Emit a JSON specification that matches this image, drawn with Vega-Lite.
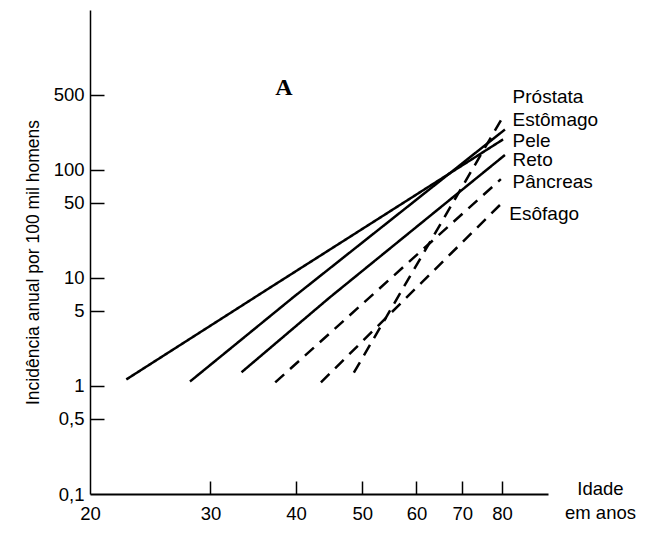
{
  "$schema": "https://vega.github.io/schema/vega-lite/v6.json",
  "width": 458,
  "height": 484,
  "autosize": {"type": "none"},
  "padding": {"left": 90, "top": 10, "right": 101, "bottom": 48},
  "background": "white",
  "config": {"view": {"stroke": null}, "font": "Liberation Sans"},
  "datasets": {
    "linhas": [
      {"cancer": "Estômago", "tipo": "solid", "idade": 22.6, "incidencia": 1.15},
      {"cancer": "Estômago", "tipo": "solid", "idade": 36.3, "incidencia": 7.83},
      {"cancer": "Estômago", "tipo": "solid", "idade": 80.3, "incidencia": 192},
      {"cancer": "Pele", "tipo": "solid", "idade": 28.0, "incidencia": 1.10},
      {"cancer": "Pele", "tipo": "solid", "idade": 39.6, "incidencia": 6.6},
      {"cancer": "Pele", "tipo": "solid", "idade": 80.8, "incidencia": 237},
      {"cancer": "Reto", "tipo": "solid", "idade": 33.3, "incidencia": 1.34},
      {"cancer": "Reto", "tipo": "solid", "idade": 44.8, "incidencia": 6.6},
      {"cancer": "Reto", "tipo": "solid", "idade": 80.8, "incidencia": 137.7},
      {"cancer": "Pâncreas", "tipo": "dashed", "idade": 37.3, "incidencia": 1.08},
      {"cancer": "Pâncreas", "tipo": "dashed", "idade": 79.7, "incidencia": 82.2},
      {"cancer": "Esôfago", "tipo": "dashed", "idade": 43.5, "incidencia": 1.08},
      {"cancer": "Esôfago", "tipo": "dashed", "idade": 80.8, "incidencia": 52.7},
      {"cancer": "Próstata", "tipo": "dashed", "idade": 48.6, "incidencia": 1.33},
      {"cancer": "Próstata", "tipo": "dashed", "idade": 80.8, "incidencia": 334}
    ],
    "rotulos": [
      {"cancer": "Próstata", "idade": 82.9, "incidencia": 419},
      {"cancer": "Estômago", "idade": 82.9, "incidencia": 254},
      {"cancer": "Pele", "idade": 82.9, "incidencia": 164},
      {"cancer": "Reto", "idade": 82.9, "incidencia": 108.4},
      {"cancer": "Pâncreas", "idade": 82.9, "incidencia": 68.4},
      {"cancer": "Esôfago", "idade": 82.0, "incidencia": 34.3}
    ],
    "painel": [
      {"painel": "A", "idade": 38.4, "incidencia": 490}
    ]
  },
  "resolve": {"axis": {"x": "independent", "y": "independent"}},
  "layer": [
    {
      "data": {"name": "linhas"},
      "mark": {"type": "line", "color": "black", "strokeWidth": 2.5, "clip": false},
      "encoding": {
        "x": {
          "field": "idade",
          "type": "quantitative",
          "scale": {"type": "log", "domain": [20, 93.4], "nice": false},
          "axis": {
            "orient": "bottom",
            "values": [20, 30, 40, 50, 60, 70, 80],
            "format": "d",
            "grid": false,
            "ticks": false,
            "title": ["Idade", "em anos"],
            "titleX": 510,
            "titleY": 0,
            "titleAlign": "center",
            "titleBaseline": "alphabetic",
            "titleFontSize": 18.5,
            "titleFontWeight": "normal",
            "titleLineHeight": 24,
            "titleColor": "black",
            "labelFontSize": 18.5,
            "labelColor": "black",
            "labelPadding": 10,
            "labelFlush": false,
            "labelOverlap": false,
            "domainColor": "black",
            "domainWidth": 2
          }
        },
        "y": {
          "field": "incidencia",
          "type": "quantitative",
          "scale": {"type": "log", "domain": [0.1, 3030], "nice": false},
          "axis": {
            "orient": "left",
            "values": [0.1, 0.5, 1, 5, 10, 50, 100, 500],
            "labelExpr": "replace(toString(datum.value), '.', ',')",
            "grid": false,
            "ticks": false,
            "title": "Incidência anual por 100 mil homens",
            "titleX": -57,
            "titleY": 252,
            "titleAngle": -90,
            "titleAlign": "center",
            "titleBaseline": "middle",
            "titleFontSize": 17.5,
            "titleFontWeight": "normal",
            "titleColor": "black",
            "labelFontSize": 18.5,
            "labelColor": "black",
            "labelPadding": 6,
            "labelFlush": false,
            "labelOverlap": false,
            "domainColor": "black",
            "domainWidth": 1.5
          }
        },
        "detail": {"field": "cancer", "type": "nominal"},
        "strokeDash": {
          "field": "tipo",
          "type": "nominal",
          "scale": {"domain": ["solid", "dashed"], "range": [[1, 0], [12, 8]]},
          "legend": null
        }
      }
    },
    {
      "data": {"name": "rotulos"},
      "mark": {"type": "text", "align": "left", "baseline": "alphabetic", "fontSize": 19, "color": "black"},
      "encoding": {
        "x": {"field": "idade", "type": "quantitative", "axis": null},
        "y": {"field": "incidencia", "type": "quantitative", "axis": null},
        "text": {"field": "cancer", "type": "nominal"}
      }
    },
    {
      "data": {"name": "painel"},
      "mark": {"type": "text", "align": "center", "baseline": "alphabetic", "fontSize": 24, "font": "Liberation Serif", "fontWeight": "bold", "color": "black"},
      "encoding": {
        "x": {
          "field": "idade",
          "type": "quantitative",
          "axis": {
            "orient": "bottom",
            "values": [30, 40, 50, 60, 70, 80],
            "offset": -13,
            "tickSize": 13,
            "tickWidth": 1.5,
            "tickColor": "black",
            "labels": false,
            "domain": false,
            "grid": false,
            "title": null
          }
        },
        "y": {
          "field": "incidencia",
          "type": "quantitative",
          "axis": {
            "orient": "left",
            "values": [0.5, 1, 5, 10, 50, 100, 500],
            "offset": -14,
            "tickSize": 14,
            "tickWidth": 1.5,
            "tickColor": "black",
            "labels": false,
            "domain": false,
            "grid": false,
            "title": null
          }
        },
        "text": {"field": "painel", "type": "nominal"}
      }
    }
  ]
}
